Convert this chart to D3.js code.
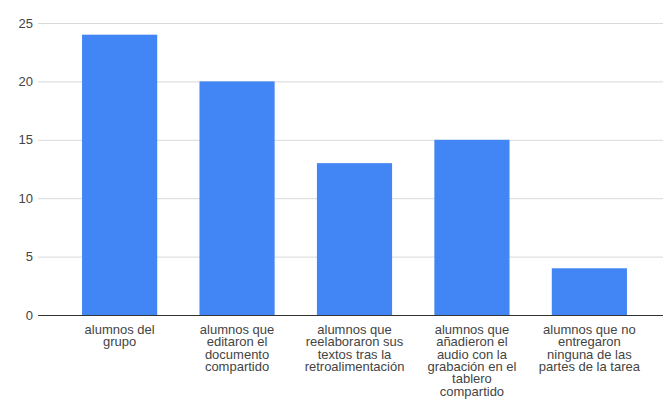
<!DOCTYPE html>
<html>
<head>
<meta charset="utf-8">
<script src="https://cdn.jsdelivr.net/npm/d3@7"></script>
<style>
  body { margin: 0; background: #fff; }
  text { font-family: Arial, "Liberation Sans", sans-serif; }
</style>
</head>
<body>
<script>
// datos del gráfico
const categories = [
  "alumnos del grupo",
  "alumnos que editaron el documento compartido",
  "alumnos que reelaboraron sus textos tras la retroalimentación",
  "alumnos que añadieron el audio con la grabación en el tablero compartido",
  "alumnos que no entregaron ninguna de las partes de la tarea"
];
const labelLines = [
  ["alumnos del", "grupo"],
  ["alumnos que", "editaron el", "documento", "compartido"],
  ["alumnos que", "reelaboraron sus", "textos tras la", "retroalimentación"],
  ["alumnos que", "añadieron el", "audio con la", "grabación en el", "tablero", "compartido"],
  ["alumnos que no", "entregaron", "ninguna de las", "partes de la tarea"]
];
const values = [24, 20, 13, 15, 4];
const yTicks = [0, 5, 10, 15, 20, 25];

const W = 666, H = 405;
const svg = d3.select("body").append("svg")
  .attr("width", W)
  .attr("height", H);

const plotLeft = 38, plotRight = 663, plotTop = 23, plotBottom = 315;

let x = d3.scaleBand()
  .domain(categories)
  .range([plotLeft, 671])
  .paddingInner(0.36)
  .paddingOuter(0.375);

let y = d3.scaleLinear()
  .domain([0, 25])
  .range([plotBottom, plotTop]);

// líneas de cuadrícula
svg.append("g")
  .selectAll("line")
  .data(yTicks.filter(d => d > 0))
  .enter()
  .append("line")
  .attr("x1", plotLeft)
  .attr("x2", plotRight)
  .attr("y1", d => y(d) + 0.5)
  .attr("y2", d => y(d) + 0.5)
  .attr("stroke", "#d9d9d9")
  .attr("stroke-width", 1);

// etiquetas del eje Y
svg.append("g")
  .selectAll("text")
  .data(yTicks)
  .enter()
  .append("text")
  .attr("x", 33)
  .attr("y", d => y(d))
  .attr("dy", "0.35em")
  .attr("text-anchor", "end")
  .attr("font-size", "13px")
  .attr("fill", "#444")
  .text(d => d);

// barras
svg.selectAll("rect.bar")
  .data(values)
  .enter()
  .append("rect")
  .attr("class", "bar")
  .attr("x", (d, i) => x(categories[i]))
  .attr("y", d => y(d))
  .attr("width", x.bandwidth())
  .attr("height", d => plotBottom - y(d))
  .attr("fill", "#4285f4");

// línea base
svg.append("line")
  .attr("x1", plotLeft)
  .attr("x2", plotRight)
  .attr("y1", plotBottom + 0.5)
  .attr("y2", plotBottom + 0.5)
  .attr("stroke", "#333")
  .attr("stroke-width", 1);

// etiquetas del eje X
const xl = svg.append("g")
  .selectAll("text")
  .data(categories)
  .enter()
  .append("text")
  .attr("text-anchor", "middle")
  .attr("font-size", "13px")
  .attr("fill", "#444");

xl.each(function (d, i) {
  const cx = x(d) + x.bandwidth() / 2;
  d3.select(this).selectAll("tspan")
    .data(labelLines[i])
    .enter()
    .append("tspan")
    .attr("x", cx)
    .attr("y", (t, j) => 334 + j * 12.3)
    .text(t => t);
});
</script>
</body>
</html>
